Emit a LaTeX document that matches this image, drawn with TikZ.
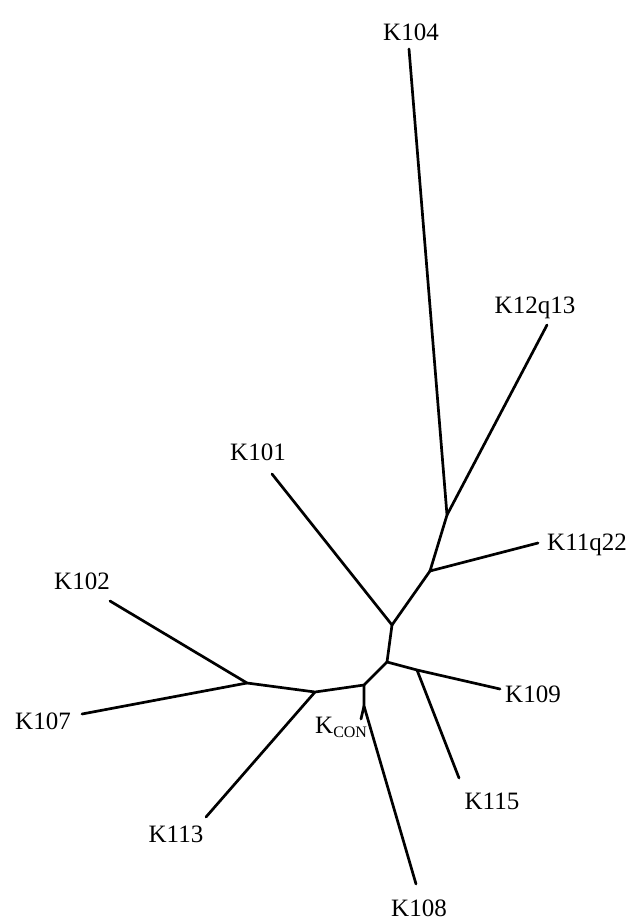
\documentclass[tikz,border=0pt]{standalone}
\usepackage{fontspec}
\setmainfont{Liberation Serif}
\begin{document}
\begin{tikzpicture}[x=1pt,y=-1pt,
  branch/.style={line width=2.7pt,line cap=round,line join=round},
  taxon/.style={font=\fontsize{25}{25}\selectfont,inner sep=0pt}]
\useasboundingbox (0,0) rectangle (637,920);
% internal vertices of the tree
\coordinate (n1) at (447,515);
\coordinate (n2) at (430,571);
\coordinate (n3) at (392,625);
\coordinate (n4) at (387,662);
\coordinate (n5) at (417,670);
\coordinate (n6) at (364,685);
\coordinate (n7) at (315,692);
\coordinate (n8) at (247,683);
\coordinate (n9) at (364,706);
% leaf tips
\coordinate (t104) at (409,49);
\coordinate (t1213) at (547,325);
\coordinate (t1122) at (538,543);
\coordinate (t101) at (272,474);
\coordinate (t102) at (110,601);
\coordinate (t107) at (82,714);
\coordinate (t113) at (206,817);
\coordinate (t108) at (416,884);
\coordinate (t115) at (459,778);
\coordinate (t109) at (500,689);
\coordinate (tcon) at (361,719);
% taxon labels
\node[taxon] (l104) at (411,32) {K104};
\node[taxon] (l1213) at (535,308) {K12q13};
\node[taxon,anchor=west] (l1122) at (547,545) {K11q22};
\node[taxon] (l101) at (258,452) {K101};
\node[taxon] (l102) at (82,581) {K102};
\node[taxon] (l107) at (43,721) {K107};
\node[taxon] (l113) at (176,834) {K113};
\node[taxon] (l108) at (419,908) {K108};
\node[taxon] (l115) at (492,801) {K115};
\node[taxon] (l109) at (533,694) {K109};
\node[taxon,anchor=base west] (lcon) at (315,733) {K\raisebox{-4pt}{\fontsize{16}{16}\selectfont CON}};
% branches
\draw[branch] (t104) -- (n1) -- (t1213);
\draw[branch] (n1) -- (n2) -- (t1122);
\draw[branch] (n2) -- (n3) -- (t101);
\draw[branch] (n3) -- (n4) -- (n5) -- (t109);
\draw[branch] (n5) -- (t115);
\draw[branch] (n4) -- (n6) -- (n7) -- (n8) -- (t102);
\draw[branch] (n8) -- (t107);
\draw[branch] (n7) -- (t113);
\draw[branch] (n6) -- (n9) -- (t108);
\draw[branch] (n9) -- (tcon);
\end{tikzpicture}
\end{document}
